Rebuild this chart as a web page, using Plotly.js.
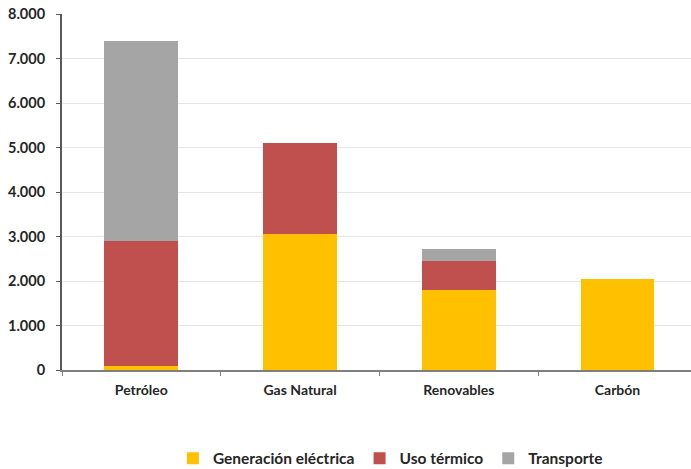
<!DOCTYPE html>
<html>
<head>
<meta charset="utf-8">
<script src="https://cdn.plot.ly/plotly-3.0.1.min.js"></script>
<style>html,body{margin:0;padding:0;background:#fff;}#chart{width:691px;height:469px;}</style>
</head>
<body>
<div id="chart"></div>
<script>
const categories = ["Petróleo", "Gas Natural", "Renovables", "Carbón"];
const generacionElectrica = [90, 3050, 1790, 2040];
const usoTermico = [2800, 2050, 660, 0];
const transporte = [4510, 0, 270, 0];
const seriesNames = ["Generación eléctrica", "Uso térmico", "Transporte"];
const yTickVals = [0, 1000, 2000, 3000, 4000, 5000, 6000, 7000, 8000];

const colors = ["#FFC000", "#C0504D", "#A5A5A5"];
const seriesValues = [generacionElectrica, usoTermico, transporte];
const fontFam = "Lato, 'Open Sans', sans-serif";

const traces = seriesValues.map((vals, i) => ({
  type: "bar",
  name: seriesNames[i],
  x: categories,
  y: vals,
  marker: {color: colors[i], line: {width: 0}},
  width: 0.466,
  hoverinfo: "x+y+name"
}));

const layout = {
  width: 691,
  height: 469,
  barmode: "stack",
  separators: ",.",
  margin: {l: 62, r: 0, t: 14, b: 99},
  paper_bgcolor: "#ffffff",
  plot_bgcolor: "#ffffff",
  font: {family: fontFam, color: "#262626", size: 14, weight: "bold"},
  xaxis: {
    range: [-0.5, 3.463],
    showline: true,
    linecolor: "#7f7f7f",
    linewidth: 2,
    ticks: "outside",
    tickson: "boundaries",
    ticklen: 4,
    tickcolor: "#7f7f7f",
    showgrid: false,
    tickfont: {family: fontFam, size: 14, color: "#262626", weight: "bold"},
    ticklabelstandoff: 6,
    fixedrange: true
  },
  yaxis: {
    range: [0, 8000],
    tickvals: yTickVals,
    tickformat: ",d",
    showline: true,
    linecolor: "#595959",
    linewidth: 2,
    ticks: "outside",
    ticklen: 4,
    tickcolor: "#595959",
    showgrid: true,
    gridcolor: "#E6E6E6",
    gridwidth: 1,
    zeroline: false,
    tickfont: {family: fontFam, size: 14.5, color: "#262626", weight: "bold"},
    ticklabelstandoff: 8,
    fixedrange: true
  },
  legend: {
    orientation: "h",
    xref: "container",
    yref: "container",
    x: 0.565,
    xanchor: "center",
    y: 0.022,
    yanchor: "middle",
    font: {family: fontFam, size: 15.5, color: "#262626", weight: "bold"},
    itemwidth: 30,
    traceorder: "normal",
    tracegroupgap: 0
  },
  showlegend: true,
  bargap: 0.5
};

Plotly.newPlot("chart", traces, layout, {displayModeBar: false, staticPlot: true});
</script>
</body>
</html>
